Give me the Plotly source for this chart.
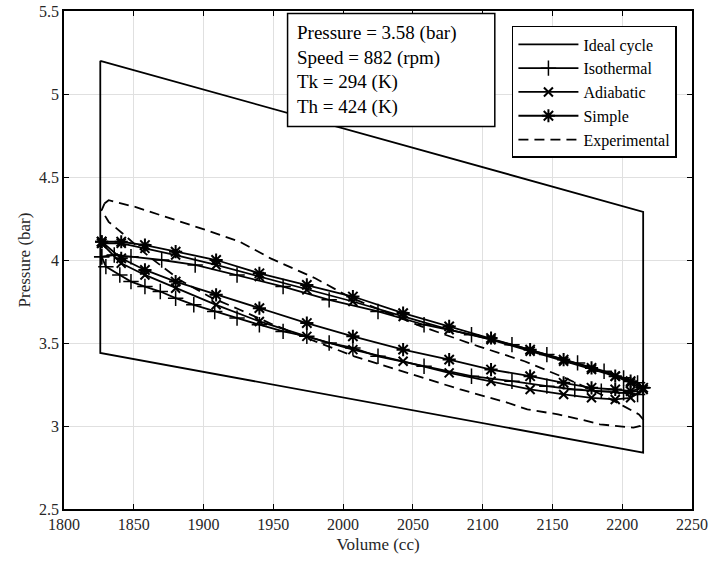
import plotly.graph_objects as go

# Ideal cycle (closed parallelogram)
V_ideal = [1826, 2215, 2215, 1826, 1826]
P_ideal = [5.20, 4.29, 2.84, 3.44, 5.20]

# Isothermal loop
V_iso_up = [1827, 1836, 1848, 1870, 1894, 1924, 1957, 1990, 2025, 2058, 2092, 2121, 2146, 2168, 2187, 2201, 2211, 2215]
P_iso_up = [4.02, 4.03, 4.02, 4.00, 3.97, 3.91, 3.84, 3.76, 3.69, 3.61, 3.55, 3.49, 3.43, 3.38, 3.33, 3.29, 3.26, 3.23]
V_iso_lo = [2211, 2201, 2185, 2166, 2146, 2121, 2092, 2058, 2025, 2007, 1990, 1974, 1957, 1940, 1924, 1908, 1893, 1880, 1869, 1858, 1848, 1840, 1830, 1827]
P_iso_lo = [3.19, 3.20, 3.21, 3.22, 3.24, 3.27, 3.30, 3.36, 3.42, 3.47, 3.50, 3.54, 3.57, 3.61, 3.65, 3.69, 3.73, 3.77, 3.81, 3.84, 3.87, 3.91, 3.96, 4.02]

# Adiabatic loop
V_adi_up = [1827, 1841, 1858, 1880, 1909, 1940, 1974, 2007, 2043, 2076, 2106, 2134, 2158, 2178, 2195, 2206, 2215]
P_adi_up = [4.10, 4.10, 4.07, 4.03, 3.97, 3.90, 3.82, 3.75, 3.66, 3.58, 3.52, 3.45, 3.39, 3.34, 3.30, 3.26, 3.22]
V_adi_lo = [2206, 2195, 2178, 2158, 2134, 2106, 2076, 2043, 2007, 1974, 1940, 1909, 1880, 1858, 1841, 1827]
P_adi_lo = [3.17, 3.16, 3.17, 3.19, 3.22, 3.27, 3.32, 3.39, 3.46, 3.54, 3.63, 3.73, 3.83, 3.91, 3.98, 4.10]

# Simple loop
V_sim_up = [1827, 1841, 1858, 1880, 1909, 1940, 1974, 2007, 2043, 2076, 2106, 2134, 2158, 2178, 2195, 2206, 2215]
P_sim_up = [4.11, 4.11, 4.09, 4.05, 4.00, 3.92, 3.85, 3.78, 3.68, 3.60, 3.53, 3.46, 3.40, 3.35, 3.30, 3.27, 3.23]
V_sim_lo = [2206, 2195, 2178, 2158, 2134, 2106, 2076, 2043, 2007, 1974, 1940, 1909, 1880, 1858, 1841, 1827]
P_sim_lo = [3.21, 3.22, 3.23, 3.26, 3.30, 3.34, 3.40, 3.46, 3.54, 3.62, 3.71, 3.79, 3.87, 3.94, 4.01, 4.11]

# Experimental loop
V_exp = [1829, 1832, 1851, 1873, 1902, 1926, 1948, 1980, 2004, 2015, 2056, 2097, 2130, 2159, 2185, 2201, 2212, 2215,
         2213, 2208, 2198, 2184, 2170, 2154, 2132, 2118, 2084, 2049, 2008, 1980, 1950, 1926, 1904, 1883, 1861, 1842, 1832, 1827, 1829]
P_exp = [4.34, 4.36, 4.32, 4.26, 4.18, 4.11, 4.01, 3.89, 3.78, 3.74, 3.60, 3.48, 3.39, 3.29, 3.19, 3.12, 3.07, 3.04,
         3.00, 2.99, 3.00, 3.01, 3.04, 3.07, 3.10, 3.14, 3.22, 3.31, 3.42, 3.51, 3.61, 3.70, 3.78, 3.88, 4.02, 4.16, 4.23, 4.30, 4.34]

info_lines = ["Pressure = 3.58 (bar)", "Speed = 882 (rpm)", "Tk = 294 (K)", "Th = 424 (K)"]
x_ticks = [1800, 1850, 1900, 1950, 2000, 2050, 2100, 2150, 2200, 2250]
y_ticks = [2.5, 3, 3.5, 4, 4.5, 5, 5.5]

FONT = "Liberation Serif"
LW = 1.8

fig = go.Figure()
fig.add_trace(go.Scatter(x=V_ideal, y=P_ideal, mode="lines", name="Ideal cycle",
                         line=dict(color="black", width=LW)))
fig.add_trace(go.Scatter(x=V_iso_up + V_iso_lo, y=P_iso_up + P_iso_lo, mode="lines+markers", name="Isothermal",
                         line=dict(color="black", width=LW),
                         marker=dict(symbol="cross-thin-open", size=11, line=dict(color="black", width=1.5))))
fig.add_trace(go.Scatter(x=V_adi_up + V_adi_lo, y=P_adi_up + P_adi_lo, mode="lines+markers", name="Adiabatic",
                         line=dict(color="black", width=LW),
                         marker=dict(symbol="x-thin-open", size=9, line=dict(color="black", width=2))))
fig.add_trace(go.Scatter(x=V_sim_up + V_sim_lo, y=P_sim_up + P_sim_lo, mode="lines+markers", name="Simple",
                         line=dict(color="black", width=LW),
                         marker=dict(symbol="asterisk-open", size=11, line=dict(color="black", width=2))))
fig.add_trace(go.Scatter(x=V_exp, y=P_exp, mode="lines", name="Experimental",
                         line=dict(color="black", width=LW, dash="10px,6px")))

# info box
fig.add_shape(type="rect", xref="paper", yref="paper", x0=0.356, x1=0.686, y0=0.768, y1=0.995,
              line=dict(color="black", width=1.5), fillcolor="white", layer="above")
fig.add_annotation(xref="paper", yref="paper", x=0.368, y=0.982, xanchor="left", yanchor="top",
                   text="<br>".join(info_lines), align="left", showarrow=False,
                   font=dict(family=FONT, size=19, color="black"))

axis_common = dict(showline=True, linecolor="black", linewidth=1.5, mirror="ticks",
                   ticks="inside", ticklen=5, tickcolor="black", tickwidth=1.2,
                   showgrid=True, gridcolor="#e0e0e0", gridwidth=1, zeroline=False,
                   automargin=False,
                   tickfont=dict(family=FONT, size=16, color="#262626"))

fig.update_xaxes(range=[1800, 2250], tickvals=x_ticks, ticktext=[str(v) for v in x_ticks],
                 title=dict(text="Volume (cc)", font=dict(family=FONT, size=17, color="#262626"), standoff=6),
                 **axis_common)
fig.update_yaxes(range=[2.5, 5.5], tickvals=y_ticks, ticktext=[f"{v:g}" for v in y_ticks],
                 title=dict(text="Pressure (bar)", font=dict(family=FONT, size=17, color="#262626"), standoff=4),
                 **axis_common)

fig.update_layout(width=713, height=570, margin=dict(l=64, r=21, t=11, b=61),
                  plot_bgcolor="white", paper_bgcolor="white",
                  legend=dict(x=0.976, y=0.970, xanchor="right", yanchor="top",
                              bordercolor="black", borderwidth=1.5, bgcolor="white",
                              font=dict(family=FONT, size=16, color="black"),
                              tracegroupgap=0, itemwidth=60),
                  showlegend=True)

fig.write_html("out.html")
